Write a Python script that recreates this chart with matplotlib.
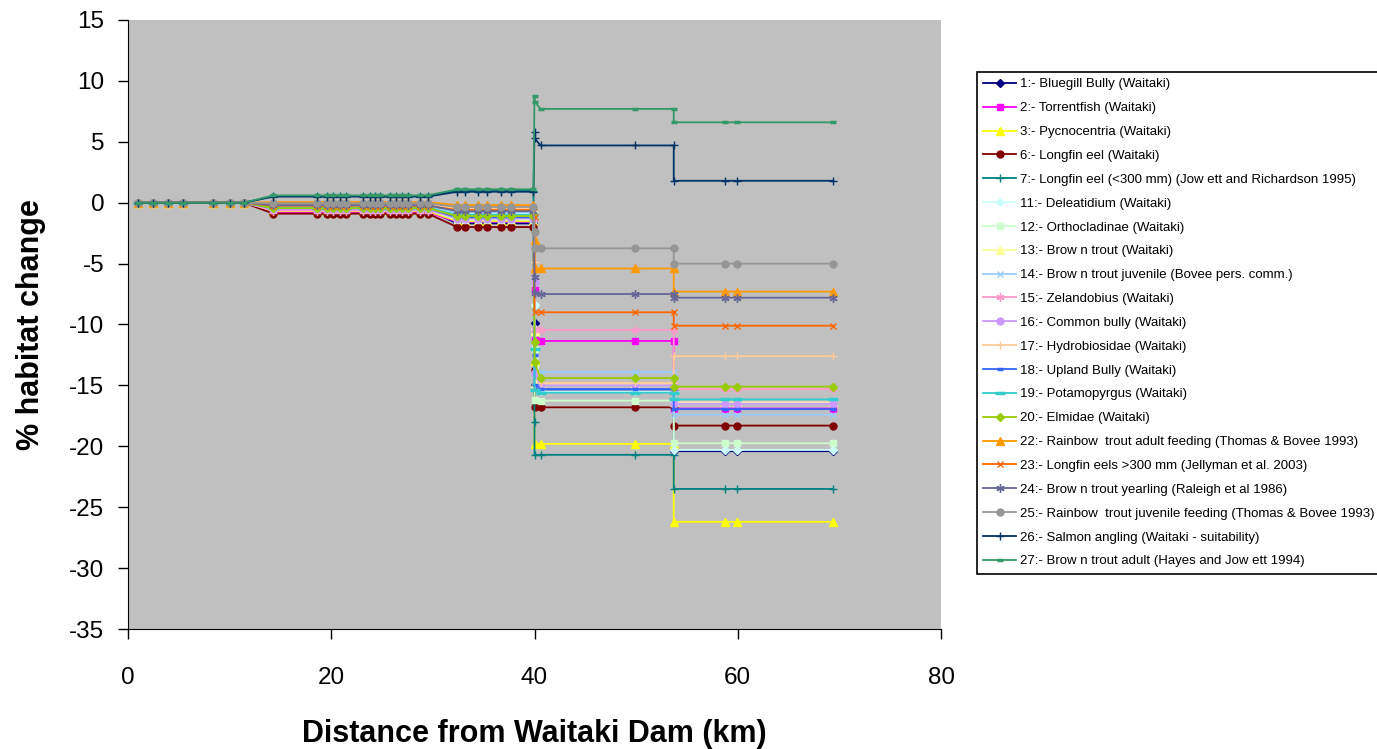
"""Habitat change along the lower Waitaki River, one line per species."""

from __future__ import annotations

import matplotlib

matplotlib.use("Agg")
import matplotlib.pyplot as plt

# distance of each site below the dam (km), grouped by reach
X_REACH_A = [1.0, 2.5, 3.9, 5.4, 8.4, 10.0, 11.4]
X_REACH_B = [14.3, 18.6, 19.6, 20.2, 20.9, 21.5, 23.1, 23.8, 24.3, 24.8,
             25.8, 26.4, 27.0, 27.6, 28.7, 29.5]
X_REACH_C = [32.4, 33.2, 34.4, 35.3, 36.7, 37.7, 39.9]
X_STEP = [40.0, 40.0]
X_REACH_D = [40.6, 49.9, 53.7]
X_REACH_E = [53.7, 58.7, 59.9, 69.4]

LABELS = [
    "1:- Bluegill Bully (Waitaki)",
    "2:- Torrentfish (Waitaki)",
    "3:- Pycnocentria (Waitaki)",
    "6:- Longfin eel (Waitaki)",
    "7:- Longfin eel (<300 mm) (Jow ett and Richardson 1995)",
    "11:- Deleatidium (Waitaki)",
    "12:- Orthocladinae (Waitaki)",
    "13:- Brow n trout (Waitaki)",
    "14:- Brow n trout juvenile (Bovee pers. comm.)",
    "15:- Zelandobius (Waitaki)",
    "16:- Common bully (Waitaki)",
    "17:- Hydrobiosidae (Waitaki)",
    "18:- Upland Bully (Waitaki)",
    "19:- Potamopyrgus (Waitaki)",
    "20:- Elmidae (Waitaki)",
    "22:- Rainbow  trout adult feeding (Thomas & Bovee 1993)",
    "23:- Longfin eels >300 mm (Jellyman et al. 2003)",
    "24:- Brow n trout yearling (Raleigh et al 1986)",
    "25:- Rainbow  trout juvenile feeding (Thomas & Bovee 1993)",
    "26:- Salmon angling (Waitaki - suitability)",
    "27:- Brow n trout adult (Hayes and Jow ett 1994)",
]

# % habitat change per species in each reach (same order as LABELS)
REACH_A = [0.0] * 21
REACH_B = [-0.6, -0.8, -0.7, -0.9, 0.55, -0.35, -0.6, -0.15, -0.3, -0.65, -0.55,
           -0.1, -0.45, -0.4, -0.45, 0.05, -0.25, -0.2, -0.05, 0.5, 0.6]
REACH_C = [-1.7, -1.55, -1.5, -2.0, 1.0, -0.9, -1.4, -0.55, -0.8, -1.2, -1.3,
           -0.45, -1.2, -1.0, -1.1, -0.2, -0.6, -0.7, -0.35, 0.9, 1.1]
STEP_1 = [-9.9, -7.2, -13.0, -13.7, -18.0, -8.4, -12.0, -10.5, -9.0, -10.4, -6.5,
          -4.9, -12.5, -12.0, -11.4, -3.1, -1.2, -6.1, -2.4, 5.8, 8.8]
STEP_2 = [-15.0, -11.3, -19.8, -16.8, -20.7, -10.4, -16.2, -14.8, -14.0, -10.45, -14.0,
          -12.6, -15.0, -15.4, -13.1, -5.4, -9.0, -7.4, -3.7, 5.3, 8.3]
REACH_D = [-15.35, -11.35, -19.8, -16.8, -20.7, -15.5, -16.25, -14.85, -13.9, -10.45,
           -15.0, -14.8, -15.3, -15.6, -14.4, -5.4, -9.0, -7.5, -3.75, 4.7, 7.7]
REACH_E = [-20.4, -16.9, -26.2, -18.3, -23.5, -20.3, -19.75, -16.4, -17.4, -15.3,
           -16.5, -12.6, -16.95, -16.15, -15.1, -7.3, -10.1, -7.8, -5.0, 1.8, 6.6]

ASTERISK = (6, 2, 0)
COLORS = ["#000080", "#FF00FF", "#FFFF00", "#800000", "#008080", "#CCFFFF", "#CCFFCC",
          "#FFFF99", "#99CCFF", "#FF99CC", "#CC99FF", "#FFCC99", "#3366FF", "#33CCCC",
          "#99CC00", "#FF9900", "#FF6600", "#666699", "#969696", "#003366", "#339966"]
MARKERS = ["D", "s", "^", "o", "+", "D", "s", "^", "x", ASTERISK, "o", "+", "_", "_",
           "D", "^", "x", ASTERISK, "o", "+", "_"]
SIZES = [4.2, 5, 6, 5, 6, 4.2, 5, 6, 5, 6, 5, 6, 4, 7, 4.2, 6, 5, 6, 5, 6, 4]


def series_values(i: int) -> tuple[list[float], list[float]]:
    x = X_REACH_A + X_REACH_B + X_REACH_C + X_STEP + X_REACH_D + X_REACH_E
    y = ([REACH_A[i]] * len(X_REACH_A) + [REACH_B[i]] * len(X_REACH_B)
         + [REACH_C[i]] * len(X_REACH_C) + [STEP_1[i], STEP_2[i]]
         + [REACH_D[i]] * len(X_REACH_D) + [REACH_E[i]] * len(X_REACH_E))
    return x, y


def main() -> None:
    plt.rcParams["font.family"] = ["Liberation Sans", "DejaVu Sans"]
    plt.rcParams["axes.unicode_minus"] = False

    fig = plt.figure(figsize=(13.77, 7.49), dpi=100)
    ax = fig.add_axes([128 / 1377, 1 - 629 / 749, (941 - 128) / 1377, (629 - 20) / 749])
    ax.set_facecolor("#C0C0C0")

    for i, label in enumerate(LABELS):
        x, y = series_values(i)
        mew = 2.5 if MARKERS[i] == "_" else 1.0
        ax.plot(x, y, color=COLORS[i], linewidth=1.3, marker=MARKERS[i],
                markersize=SIZES[i], markeredgewidth=mew, label=label)

    ax.set_xlim(0, 80)
    ax.set_ylim(-35, 15)
    ax.set_xticks(range(0, 81, 20))
    ax.set_yticks(range(-35, 16, 5))
    ax.tick_params(labelsize=17.5, length=7, width=1, direction="out")
    ax.tick_params(axis="x", pad=20)
    ax.tick_params(axis="y", pad=10)
    for side in ("top", "right"):
        ax.spines[side].set_visible(False)
    ax.set_xlabel("Distance from Waitaki Dam (km)", fontsize=22, fontweight="bold", labelpad=22)
    ax.set_ylabel("% habitat change", fontsize=22, fontweight="bold", labelpad=17)

    leg = fig.legend(loc="upper left", bbox_to_anchor=(977 / 1377, 1 - 72 / 749),
                     fontsize=9.5, frameon=True, fancybox=False, framealpha=1,
                     edgecolor="black", borderpad=0.47, labelspacing=0.88,
                     handlelength=2.5, handletextpad=0.3, borderaxespad=0, numpoints=1)
    leg.get_frame().set_linewidth(1.2)

    fig.savefig("out.png", dpi=100)


if __name__ == "__main__":
    main()
